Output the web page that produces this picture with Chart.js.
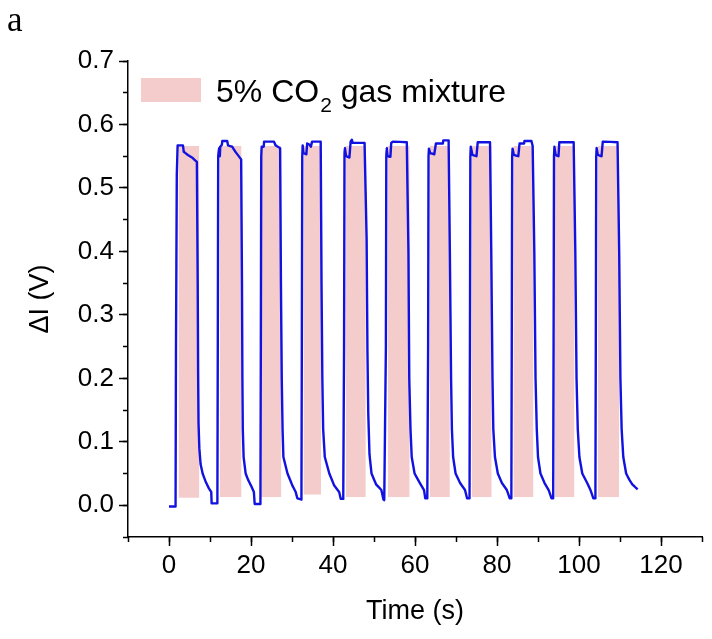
<!DOCTYPE html>
<html lang="en">
<head>
    <meta charset="UTF-8">
    <title>CO2 response</title>
    <script src="https://cdn.jsdelivr.net/npm/chart.js"></script>
    <style>
        body {
            margin: 0;
            background: #ffffff;
        }
        .wrap {
            position: relative;
            width: 712px;
            height: 639px;
        }
    </style>
</head>
<body>
    <div class="wrap">
        <canvas id="chart"></canvas>
    </div>

    <script>
        // measured trace, [time (s), delta I (V)] per gas pulse
        const pulse1 = [[0.0, -0.002], [1.6, -0.002], [1.7, 0.24], [1.9, 0.52], [2.1, 0.567], [3.4, 0.567], [3.6, 0.557], [4.6, 0.552], [5.8, 0.547], [6.8, 0.541], [7.0, 0.35], [7.1, 0.21], [7.2, 0.13], [7.4, 0.09], [7.7, 0.065], [8.2, 0.05], [8.9, 0.038], [9.7, 0.027], [10.3, 0.021], [10.4, 0.003], [11.8, 0.003]];
        const pulse2 = [[11.9, 0.25], [12.0, 0.55], [12.2, 0.563], [12.4, 0.55], [12.5, 0.565], [12.9, 0.568], [13.0, 0.574], [14.2, 0.574], [14.4, 0.567], [15.4, 0.565], [16.3, 0.556], [17.6, 0.545], [17.8, 0.35], [17.9, 0.2], [18.0, 0.12], [18.2, 0.076], [18.7, 0.05], [19.3, 0.04], [20.0, 0.031], [20.7, 0.021], [20.9, 0.002], [22.3, 0.002]];
        const pulse3 = [[22.4, 0.25], [22.5, 0.55], [22.6, 0.565], [23.1, 0.565], [23.2, 0.573], [25.6, 0.573], [26.0, 0.567], [27.1, 0.563], [27.3, 0.35], [27.5, 0.2], [27.7, 0.12], [27.9, 0.076], [28.9, 0.05], [30.1, 0.031], [30.9, 0.021], [31.3, 0.011], [32.3, 0.009]];
        const pulse4 = [[32.4, 0.25], [32.5, 0.55], [32.6, 0.567], [32.8, 0.555], [33.5, 0.553], [33.7, 0.57], [34.3, 0.568], [34.6, 0.565], [34.9, 0.573], [37.0, 0.573], [37.2, 0.35], [37.4, 0.2], [37.6, 0.12], [38.0, 0.076], [39.1, 0.05], [40.3, 0.031], [41.5, 0.021], [41.9, 0.01], [42.5, 0.01]];
        const pulse5 = [[42.7, 0.25], [42.8, 0.55], [42.9, 0.563], [43.2, 0.55], [44.0, 0.548], [44.3, 0.573], [44.6, 0.576], [44.8, 0.571], [47.7, 0.571], [48.2, 0.42], [48.4, 0.244], [48.6, 0.145], [48.9, 0.08], [49.4, 0.05], [50.5, 0.033], [51.8, 0.024], [52.3, 0.009], [52.4, 0.018], [52.5, 0.008]];
        const pulse6 = [[52.9, 0.25], [53.0, 0.55], [53.1, 0.563], [53.3, 0.55], [54.0, 0.549], [54.2, 0.571], [54.6, 0.573], [58.0, 0.572], [58.4, 0.4], [58.6, 0.2], [58.9, 0.12], [59.2, 0.076], [59.9, 0.05], [61.2, 0.035], [62.2, 0.024], [62.5, 0.011], [63.0, 0.011]];
        const pulse7 = [[63.2, 0.25], [63.3, 0.55], [63.4, 0.562], [63.7, 0.555], [64.7, 0.553], [65.1, 0.57], [66.8, 0.57], [66.9, 0.575], [68.2, 0.575], [68.5, 0.4], [68.8, 0.2], [69.0, 0.12], [69.3, 0.076], [69.9, 0.05], [71.0, 0.035], [72.2, 0.024], [72.7, 0.011], [73.3, 0.011]];
        const pulse8 = [[73.4, 0.25], [73.5, 0.55], [73.6, 0.565], [74.0, 0.552], [75.0, 0.55], [75.3, 0.572], [78.3, 0.572], [78.6, 0.4], [78.9, 0.2], [79.1, 0.12], [79.5, 0.076], [80.2, 0.05], [81.2, 0.035], [82.4, 0.024], [83.1, 0.011], [83.5, 0.011]];
        const pulse9 = [[83.6, 0.25], [83.7, 0.55], [83.8, 0.562], [84.1, 0.552], [85.2, 0.55], [85.5, 0.57], [86.6, 0.57], [86.7, 0.574], [88.4, 0.574], [88.7, 0.566], [89.1, 0.4], [89.4, 0.2], [89.7, 0.12], [90.0, 0.076], [90.6, 0.05], [91.6, 0.035], [92.6, 0.024], [93.3, 0.011], [93.7, 0.011]];
        const pulse10 = [[93.8, 0.25], [93.9, 0.55], [94.0, 0.565], [94.3, 0.552], [95.0, 0.55], [95.2, 0.572], [98.7, 0.572], [99.1, 0.4], [99.4, 0.2], [99.7, 0.12], [100.1, 0.076], [100.8, 0.05], [102.0, 0.035], [102.8, 0.024], [103.5, 0.011], [104.0, 0.011]];
        const pulse11 = [[104.1, 0.25], [104.2, 0.55], [104.3, 0.563], [104.6, 0.552], [105.5, 0.55], [105.8, 0.573], [109.4, 0.572], [109.8, 0.4], [110.1, 0.2], [110.4, 0.12], [110.8, 0.076], [111.5, 0.05], [112.3, 0.04], [113.0, 0.033], [113.8, 0.028], [114.3, 0.025]];

        // gas on / off windows (shaded)
        const co2Start = [2.3, 12.4, 22.5, 32.8, 43.1, 53.4, 63.6, 73.8, 84.0, 94.1, 104.6];
        const co2End = [7.4, 17.7, 27.4, 37.1, 48.0, 58.7, 68.5, 78.7, 88.9, 98.9, 109.8];
        const co2Low = [0.012, 0.013, 0.013, 0.017, 0.013, 0.013, 0.013, 0.013, 0.013, 0.013, 0.013];
        const co2High = [0.566, 0.566, 0.566, 0.566, 0.566, 0.566, 0.566, 0.566, 0.566, 0.566, 0.566];

        const xTickLabels = ["0", "20", "40", "60", "80", "100", "120"];
        const yTickLabels = ["0.0", "0.1", "0.2", "0.3", "0.4", "0.5", "0.6", "0.7"];

        const PINK = "#f4cccc";
        const BLUE = "#1212e0";
        const FONT = "'Liberation Sans', Arial, sans-serif";
        const X_MIN = -10, X_MAX = 130, Y_MIN = -0.05, Y_MAX = 0.7;

        const trace = [pulse1, pulse2, pulse3, pulse4, pulse5, pulse6, pulse7, pulse8, pulse9, pulse10, pulse11]
            .flat()
            .map(p => ({ x: p[0], y: p[1] }));

        const datasets = [{
            label: "trace",
            data: trace,
            borderColor: BLUE,
            borderWidth: 2.4,
            borderJoinStyle: "round",
            pointRadius: 0,
            tension: 0.0001, // tiny tension: skips the min/max "fast path" so steep edges stay solid
            fill: false,
            order: 0
        }];

        co2Start.forEach((s, i) => {
            datasets.push({
                label: "co2 " + (i + 1),
                data: [{ x: s, y: co2High[i] }, { x: co2End[i], y: co2High[i] }],
                borderColor: "rgba(0,0,0,0)",
                borderWidth: 0,
                backgroundColor: PINK,
                pointRadius: 0,
                fill: { target: { value: co2Low[i] } },
                order: 1
            });
        });

        // panel letter + legend with subscript
        const decor = {
            id: "decor",
            afterDraw(chart) {
                const ctx = chart.ctx;
                ctx.save();
                ctx.fillStyle = "#000";
                ctx.textBaseline = "alphabetic";
                ctx.font = "35px 'Liberation Serif', 'Times New Roman', serif";
                ctx.fillText("a", 7, 31);

                ctx.fillStyle = PINK;
                ctx.fillRect(141, 78, 60, 24);

                ctx.fillStyle = "#000";
                let x = 216;
                ctx.font = "32px " + FONT;
                ctx.fillText("5% CO", x, 102);
                x += ctx.measureText("5% CO").width + 1;
                ctx.font = "21px " + FONT;
                ctx.fillText("2", x, 112);
                x += ctx.measureText("2").width;
                ctx.font = "32px " + FONT;
                ctx.fillText(" gas mixture", x, 102);
                ctx.restore();
            }
        };

        const blank = () => "";
        const tickGrid = len => ({ display: true, drawOnChartArea: false, drawTicks: true, tickLength: len, tickColor: "#000", tickWidth: 1.5 });

        new Chart(document.getElementById("chart"), {
            type: "line",
            data: { datasets: datasets },
            plugins: [decor],
            options: {
                responsive: true,
                maintainAspectRatio: false,
                animation: false,
                devicePixelRatio: 1,
                layout: { padding: { top: 61, right: 10, bottom: 0, left: 0 } },
                plugins: {
                    legend: { display: false },
                    tooltip: { enabled: false }
                },
                scales: {
                    x: {
                        type: "linear",
                        min: X_MIN,
                        max: X_MAX,
                        weight: 1,
                        afterFit: s => { s.height = 102; },
                        afterBuildTicks: s => { s.ticks = xTickLabels.map(t => ({ value: Number(t) })); },
                        border: { display: true, color: "#000", width: 1.5 },
                        grid: tickGrid(9),
                        ticks: {
                            autoSkip: false,
                            maxRotation: 0,
                            padding: 4,
                            color: "#000",
                            font: { family: FONT, size: 26 },
                            callback: (v, i) => xTickLabels[i]
                        },
                        title: {
                            display: true,
                            text: "Time (s)",
                            color: "#000",
                            font: { family: FONT, size: 27 },
                            padding: { top: 0, bottom: 11 }
                        }
                    },
                    xMinor: {
                        type: "linear",
                        position: "bottom",
                        min: X_MIN,
                        max: X_MAX,
                        weight: 0,
                        afterFit: s => { s.height = 0; },
                        border: { display: false },
                        grid: tickGrid(5),
                        ticks: { stepSize: 10, autoSkip: false, maxRotation: 0, callback: blank }
                    },
                    y: {
                        min: Y_MIN,
                        max: Y_MAX,
                        weight: 1,
                        afterFit: s => { s.width = 128; },
                        afterBuildTicks: s => { s.ticks = yTickLabels.map(t => ({ value: Number(t) })); },
                        border: { display: true, color: "#000", width: 1.5 },
                        grid: tickGrid(9),
                        ticks: {
                            autoSkip: false,
                            padding: 5,
                            color: "#000",
                            font: { family: FONT, size: 26 },
                            callback: (v, i) => yTickLabels[i]
                        },
                        title: {
                            display: true,
                            text: "ΔI (V)",
                            color: "#000",
                            font: { family: FONT, size: 27 },
                            padding: { top: 24, bottom: 0 }
                        }
                    },
                    yMinor: {
                        position: "left",
                        min: Y_MIN,
                        max: Y_MAX,
                        weight: 0,
                        afterFit: s => { s.width = 0; },
                        border: { display: false },
                        grid: tickGrid(5),
                        ticks: { stepSize: 0.05, autoSkip: false, callback: blank }
                    }
                }
            }
        });
    </script>
</body>
</html>
